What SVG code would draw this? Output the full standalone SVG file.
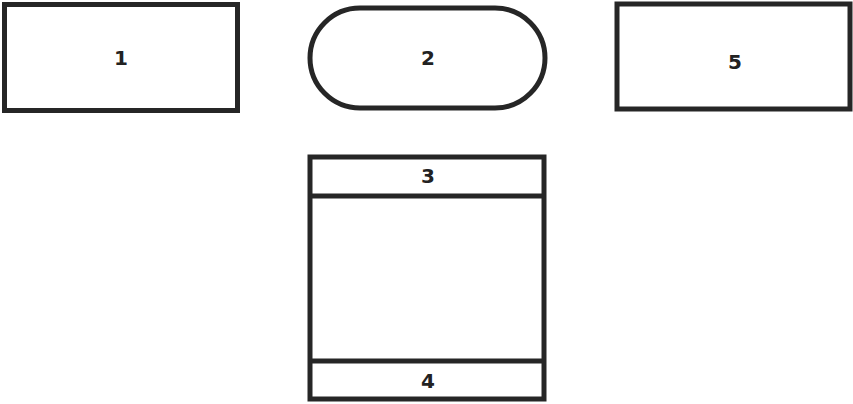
<svg xmlns="http://www.w3.org/2000/svg" width="853" height="404" viewBox="0 0 853 404">
<style>
.s{fill:#fff;stroke:#262626;stroke-width:5}
.l{stroke:#262626;stroke-width:5}
.t{font-family:"DejaVu Sans","Liberation Sans",sans-serif;font-size:20px;font-weight:bold;fill:#222;text-anchor:middle;dominant-baseline:central}
</style>
<rect width="853" height="404" fill="#fff"/>
<g id="node1"><rect class="s" x="4.5" y="4.5" width="233" height="106"/><text class="t" x="121" y="58">1</text></g>
<g id="node2"><rect class="s" x="310" y="8" width="235" height="100" rx="50" ry="50"/><text class="t" x="428" y="58">2</text></g>
<g id="node5"><rect class="s" x="617" y="4" width="233" height="105"/><text class="t" x="735" y="62">5</text></g>
<g id="node3-4"><rect class="s" x="310" y="157" width="234" height="242"/>
<line class="l" x1="310" y1="196" x2="544" y2="196"/>
<line class="l" x1="310" y1="361" x2="544" y2="361"/>
<text class="t" x="428" y="176">3</text><text class="t" x="428" y="381">4</text></g>
<g id="connectors"/>
</svg>
